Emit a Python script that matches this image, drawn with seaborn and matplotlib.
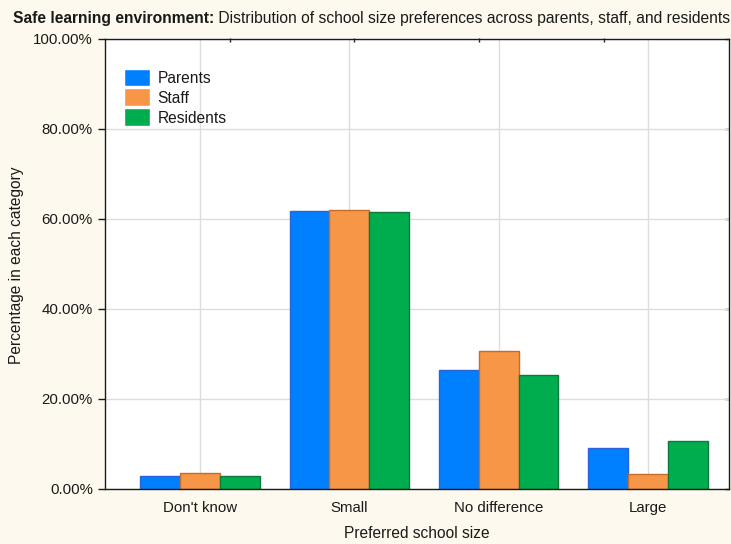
import matplotlib
matplotlib.use('Agg')
import matplotlib.pyplot as plt
import seaborn as sns
import pandas as pd
from matplotlib.ticker import FixedLocator, NullFormatter
from matplotlib.legend_handler import HandlerPatch
from matplotlib.patches import Rectangle

categories = ["Don't know", "Small", "No difference", "Large"]
groups = ["Parents", "Staff", "Residents"]
parents = [2.8, 61.6, 26.3, 8.9]
staff = [3.5, 62.0, 30.5, 3.3]
residents = [2.7, 61.4, 25.2, 10.6]
yticks = [0, 20, 40, 60, 80, 100]
ytick_labels = ["0.00%", "20.00%", "40.00%", "60.00%", "80.00%", "100.00%"]
title_bold = "Safe learning environment:"
title_rest = " Distribution of school size preferences across parents, staff, and residents"
xlabel = "Preferred school size"
ylabel = "Percentage in each category"

colors = ['#0080FF', '#F79646', '#00AD4E']
edges = ['#2A62D8', '#C66B2A', '#0B7A3B']

rows = []
for g, vals in zip(groups, [parents, staff, residents]):
    for c, v in zip(categories, vals):
        rows.append({'size': c, 'group': g, 'pct': v})
df = pd.DataFrame(rows)

sns.set_theme(style='white')
plt.rcParams['font.family'] = ['Liberation Sans', 'DejaVu Sans']
FS_TICK = 10.8
FS_LAB = 11.2
FS_TITLE = 11.27
FS_LEG = 11.2
TXT = '#1a1a1a'

W, H = 731, 544
fig = plt.figure(figsize=(W / 100, H / 100), dpi=100, facecolor='#FDF9EE')
L, R, T, B = 104.7, 729.0, 38.5, 488.5
ax = fig.add_axes([L / W, 1 - B / H, (R - L) / W, (B - T) / H])
ax.set_facecolor('white')

sns.barplot(data=df, x='size', y='pct', hue='group', order=categories,
            hue_order=groups, palette=colors, ax=ax, width=0.8,
            saturation=1, linewidth=1, errorbar=None)
for cont, ec in zip(ax.containers, edges):
    for bar in cont:
        bar.set_edgecolor(ec)
        bar.set_linewidth(1.0)

ax.set_xlim(-0.638, 3.542)
ax.set_ylim(0, 100)
ax.set_yticks(yticks)
ax.set_yticklabels(ytick_labels)
ax.set_xlabel('')
ax.set_ylabel('')

ax.grid(True, color='#DCDCDC', linewidth=1.0)
ax.set_axisbelow(True)
for s in ax.spines.values():
    s.set_visible(True)
    s.set_color('#1a1a1a')
    s.set_linewidth(1.0)

ax.tick_params(axis='x', direction='in', length=4, width=1, color='#1a1a1a',
               pad=8.8, labelsize=FS_TICK, labelcolor=TXT, bottom=True)
ax.tick_params(axis='y', direction='out', length=5, width=1, color='#1a1a1a',
               pad=3.6, labelsize=FS_TICK, labelcolor=TXT, left=True)

# inward ticks on top and right edges
top = ax.secondary_xaxis('top', functions=(lambda x: x, lambda x: x))
x0, x1 = ax.get_xlim()
top.xaxis.set_major_locator(FixedLocator([x0 + f * (x1 - x0) for f in (0.2, 0.4, 0.6, 0.8)]))
top.xaxis.set_major_formatter(NullFormatter())
top.tick_params(direction='in', length=3, width=1, color='#1a1a1a')
top.spines['top'].set_visible(False)
right = ax.secondary_yaxis('right')
right.yaxis.set_major_locator(FixedLocator(yticks))
right.yaxis.set_major_formatter(NullFormatter())
right.tick_params(direction='in', length=3, width=1, color='#1a1a1a')
right.spines['right'].set_visible(False)


def make_rect(legend, orig_handle, xdescent, ydescent, width, height, fontsize):
    h = 12.8  # points
    cy = -ydescent + height / 2.0
    return Rectangle((-xdescent, cy - h / 2.0), width, h)


handles, labels = ax.get_legend_handles_labels()
leg = ax.legend(handles, labels, loc='upper left', bbox_to_anchor=(0.031, 0.929),
                frameon=False, fontsize=FS_LEG, handlelength=1.7,
                handleheight=1.0, handletextpad=0.45, labelspacing=0.3,
                borderpad=0, borderaxespad=0,
                handler_map={Rectangle: HandlerPatch(patch_func=make_rect)})
for t in leg.get_texts():
    t.set_color(TXT)

fig.text(17 / W, 1 - 265 / H, ylabel, rotation=90, ha='center', va='center',
         fontsize=FS_LAB, color=TXT)
fig.text(417 / W, 1 - 533.5 / H, xlabel, ha='center', va='center',
         fontsize=FS_LAB, color=TXT)

t1 = fig.text(13 / W, 1 - 18.5 / H, title_bold, ha='left', va='center',
              fontsize=FS_TITLE, weight='bold', color=TXT)
fig.canvas.draw()
bb = t1.get_window_extent(renderer=fig.canvas.get_renderer())
fig.text(bb.x1 / W, 1 - 18.5 / H, title_rest, ha='left', va='center',
         fontsize=FS_TITLE, color=TXT)

fig.savefig('out.png', dpi=100, facecolor=fig.get_facecolor())
